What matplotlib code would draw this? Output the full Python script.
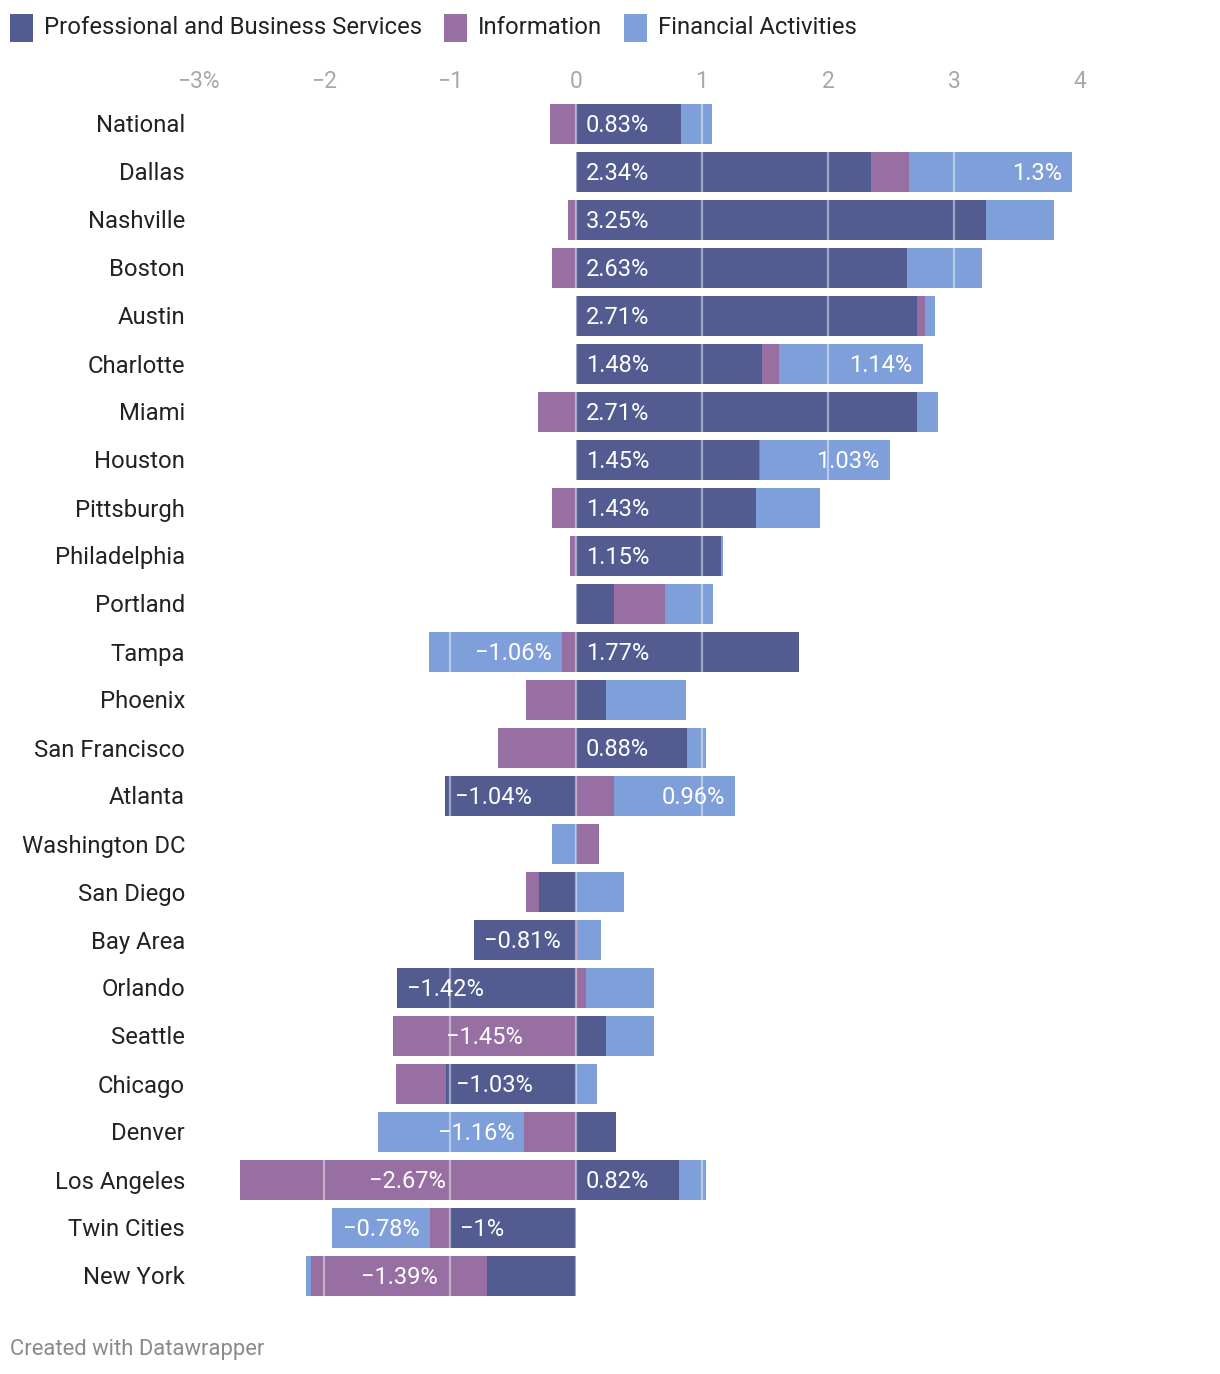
import matplotlib
matplotlib.use("Agg")
import matplotlib.pyplot as plt
from matplotlib.patches import Rectangle

plt.rcParams['font.family'] = ['Roboto', 'DejaVu Sans']

cities = ["National", "Dallas", "Nashville", "Boston", "Austin", "Charlotte", "Miami",
          "Houston", "Pittsburgh", "Philadelphia", "Portland", "Tampa", "Phoenix",
          "San Francisco", "Atlanta", "Washington DC", "San Diego", "Bay Area",
          "Orlando", "Seattle", "Chicago", "Denver", "Los Angeles", "Twin Cities", "New York"]

professional = [0.83, 2.34, 3.25, 2.63, 2.71, 1.48, 2.71, 1.45, 1.43, 1.15, 0.30, 1.77, 0.24,
                0.88, -1.04, 0.01, -0.29, -0.81, -1.42, 0.24, -1.03, 0.32, 0.82, -1.00, -0.71]
information = [-0.21, 0.30, -0.06, -0.19, 0.06, 0.13, -0.30, 0.01, -0.19, -0.05, 0.41, -0.11, -0.40,
               -0.62, 0.30, 0.17, -0.11, 0.01, 0.08, -1.45, -0.40, -0.41, -2.67, -0.16, -1.39]
financial = [0.25, 1.30, 0.54, 0.59, 0.08, 1.14, 0.16, 1.03, 0.51, 0.02, 0.38, -1.06, 0.63,
             0.15, 0.96, -0.19, 0.38, 0.19, 0.54, 0.38, 0.17, -1.16, 0.21, -0.78, -0.04]

series_names = ["Professional and Business Services", "Information", "Financial Activities"]
colors = ["#525c91", "#986fa2", "#7f9fda"]
ticks = [-3, -2, -1, 0, 1, 2, 3, 4]
tick_labels = ["\u22123%", "\u22122", "\u22121", "0", "1", "2", "3", "4"]

W, H = 1220, 1374
fig = plt.figure(figsize=(W / 100, H / 100), dpi=100)
left_px, right_px, top_px, bot_px = 198, 1080, 100, 1300
ax = fig.add_axes([left_px / W, 1 - bot_px / H, (right_px - left_px) / W, (bot_px - top_px) / H])
ax.set_xlim(-3, 4)
n = len(cities)
ax.set_ylim(n - 0.5, -0.5)
ax.axis("off")

bar_h = 40 / 48
px_per_unit = (right_px - left_px) / 7.0
pad = 10 / px_per_unit

def fmt(v):
    s = f"{abs(v):g}%"
    return ("\u2212" + s) if v < 0 else s

all_series = [professional, information, financial]
for i in range(n):
    pos_base = 0.0
    neg_base = 0.0
    for k, ser in enumerate(all_series):
        v = ser[i]
        if v >= 0:
            left = pos_base
            pos_base += v
        else:
            left = neg_base + v
            neg_base += v
        ax.barh(i, abs(v), left=left, height=bar_h, color=colors[k], edgecolor="none", zorder=2)
        if abs(v) >= 0.75:
            if k == 0:
                x, ha = left + pad, "left"
            elif k == 1:
                x, ha = left + abs(v) / 2, "center"
            else:
                x, ha = left + abs(v) - pad, "right"
            ax.text(x, i + 0.03, fmt(v), ha=ha, va="center", color="white", fontsize=17, zorder=4)

for t in [-3, -2, -1, 0, 1, 2, 3]:
    ax.axvline(t, color="white", alpha=0.45, lw=1.6, zorder=3)

for i, c in enumerate(cities):
    fig.text(185 / W, 1 - (126 + 48 * i) / H, c, ha="right", va="center", fontsize=17.2, color="#222222")

for t, lab in zip(ticks, tick_labels):
    xp = left_px + (t + 3) * px_per_unit
    fig.text(xp / W, 1 - 81 / H, lab, ha="center", va="center", fontsize=16.5, color="#a8a8a8")

# legend
fig.canvas.draw()
renderer = fig.canvas.get_renderer()
x_cur = 10
for name, col in zip(series_names, colors):
    fig.patches.append(Rectangle((x_cur / W, 1 - 42 / H), 23 / W, 28 / H,
                                 transform=fig.transFigure, facecolor=col, edgecolor="none"))
    t = fig.text((x_cur + 34) / W, 1 - 27 / H, name, ha="left", va="center", fontsize=17.2, color="#222222")
    bb = t.get_window_extent(renderer=renderer)
    x_cur = bb.x1 + 22

fig.text(10 / W, 1 - 1349 / H, "Created with Datawrapper", ha="left", va="center", fontsize=15.8, color="#8a8a8a")

fig.savefig("out.png", dpi=100, facecolor="white")
